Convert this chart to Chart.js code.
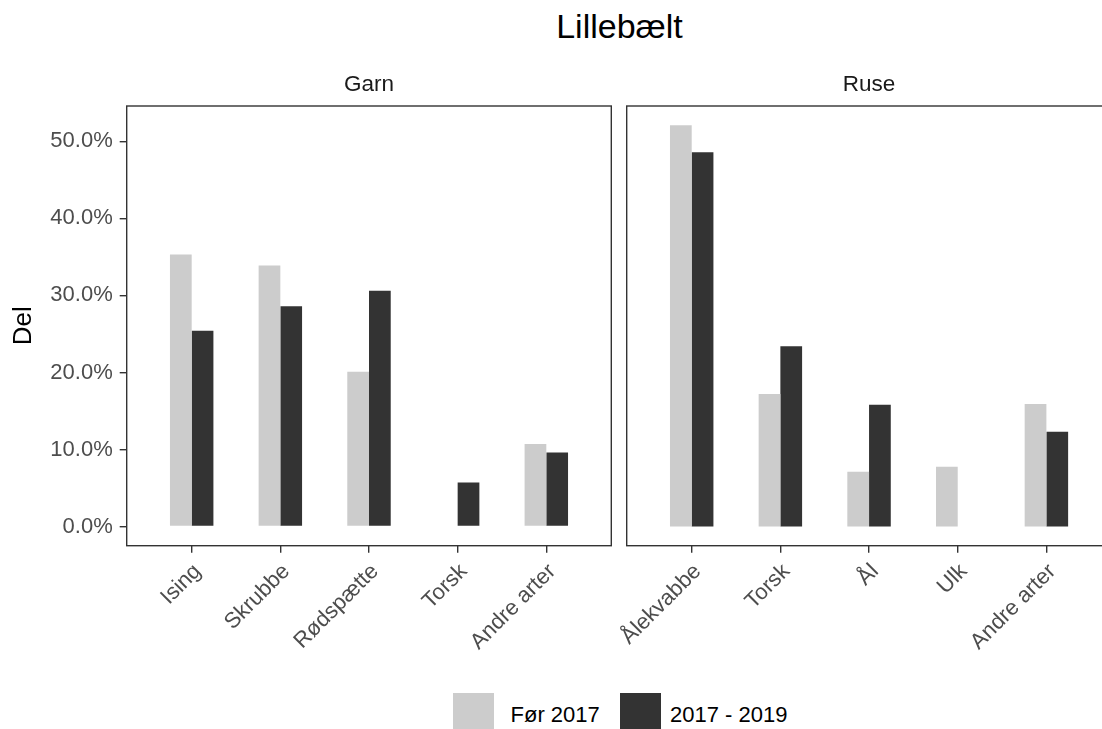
<!DOCTYPE html>
<html>
<head>
<meta charset="utf-8">
<script src="https://cdn.jsdelivr.net/npm/chart.js@4/dist/chart.umd.min.js"></script>
<style>
  body { margin: 0; width: 1102px; height: 729px; overflow: hidden; position: relative; background: #fff;
         font-family: 'Liberation Sans', Arial, sans-serif; }
  canvas { position: absolute; top: 0; }
  #garn { left: 0; }
  #ruse { left: 480px; }
  #title { position: absolute; left: 127px; width: 985px; top: 9px; text-align: center;
           font-size: 34px; line-height: 34px; color: #000; }
  .key { position: absolute; top: 693px; width: 41px; height: 41px; }
  .lab { position: absolute; top: 704px; font-size: 22px; line-height: 22px; color: #000; white-space: nowrap; }
</style>
</head>
<body>
<div id="title"></div>
<canvas id="garn" width="620" height="690"></canvas>
<canvas id="ruse" width="640" height="690"></canvas>
<div id="legend"></div>
<script>
const TITLE = 'Lillebælt';
const Y_TITLE = 'Del';
const SERIES = ['Før 2017', '2017 - 2019'];
const COLORS = ['#cccccc', '#333333'];
const Y_TICKS = [0, 10, 20, 30, 40, 50];

const GARN_ARTER = ['Ising', 'Skrubbe', 'Rødspætte', 'Torsk', 'Andre arter'];
const GARN_FOR = [35.3, 33.9, 20.1, null, 10.7];
const GARN_NY = [25.4, 28.6, 30.6, 5.7, 9.6];

const RUSE_ARTER = ['Ålekvabbe', 'Torsk', 'Ål', 'Ulk', 'Andre arter'];
const RUSE_FOR = [52.1, 17.2, 7.1, 7.75, 15.9];
const RUSE_NY = [48.6, 23.4, 15.8, null, 12.3];

const FONT = "'Liberation Sans', Arial, sans-serif";
const INK = '#333333';

document.getElementById('title').textContent = TITLE;

// ggplot-ish panel border round the plot area
const panelBorder = {
  id: 'panelBorder',
  afterDraw(chart) {
    const { ctx, chartArea: a } = chart;
    ctx.save();
    ctx.strokeStyle = INK;
    ctx.lineWidth = 1.4;
    ctx.strokeRect(a.left, a.top, a.width, a.height);
    ctx.restore();
  },
};

function panelChart(canvasId, strip, arter, forVals, nyVals, showY, padding) {
  const mkData = vals => arter.map((_, i) => ({ x: i, y: vals[i] }));
  const tickGrid = { display: true, drawOnChartArea: false, tickLength: 7, color: INK, lineWidth: 1.4 };
  return new Chart(document.getElementById(canvasId), {
    type: 'bar',
    data: {
      datasets: [forVals, nyVals].map((vals, k) => ({
        label: SERIES[k], data: mkData(vals), backgroundColor: COLORS[k],
        borderWidth: 0, categoryPercentage: 0.49, barPercentage: 1,
      })),
    },
    options: {
      responsive: false, animation: false,
      layout: { padding },
      plugins: {
        legend: { display: false },
        tooltip: { enabled: false },
        title: {
          display: true, text: strip, fullSize: false, color: '#1a1a1a',
          font: { family: FONT, size: 22.5, weight: 'normal', lineHeight: 1.2 },
          padding: { top: 71.5, bottom: 7.5 },
        },
      },
      scales: {
        x: {
          type: 'linear', min: -0.733, max: 4.733, offset: false,
          afterBuildTicks: s => { s.ticks = arter.map((_, i) => ({ value: i })); },
          afterFit: s => { s.height = 690 - 545.7; s.paddingLeft = 0; s.paddingRight = 0; },
          grid: { ...tickGrid, offset: false }, border: { display: false },
          ticks: {
            autoSkip: false, minRotation: 45, maxRotation: 45, padding: 6, labelOffset: 6,
            color: '#4d4d4d', font: { family: FONT, size: 22 },
            callback: v => arter[v],
          },
        },
        y: {
          display: showY, min: -2.5, max: 54.6,
          afterBuildTicks: s => { s.ticks = Y_TICKS.map(v => ({ value: v })); },
          afterFit: s => { s.width = showY ? 126.7 : 0; s.paddingTop = 0; s.paddingBottom = 0; },
          grid: tickGrid, border: { display: false },
          ticks: {
            padding: 7, color: '#4d4d4d', font: { family: FONT, size: 22 },
            callback: v => v.toFixed(1) + '%',
          },
          title: {
            display: true, text: Y_TITLE, color: '#000',
            font: { family: FONT, size: 26, lineHeight: 1.2 }, padding: { top: 8, bottom: 0 },
          },
        },
      },
    },
    plugins: [panelBorder],
  });
}

panelChart('garn', 'Garn', GARN_ARTER, GARN_FOR, GARN_NY, true, { left: 0, right: 8.7, top: 0, bottom: 0 });
panelChart('ruse', 'Ruse', RUSE_ARTER, RUSE_FOR, RUSE_NY, false, { left: 146.7, right: 8.6, top: 0, bottom: 0 });

// legend below the panels
const legend = document.getElementById('legend');
const KEY_X = [453.3, 620];
const LAB_X = [510.5, 670];
SERIES.forEach((name, k) => {
  const key = document.createElement('div');
  key.className = 'key';
  key.style.left = KEY_X[k] + 'px';
  key.style.background = COLORS[k];
  legend.appendChild(key);
  const lab = document.createElement('div');
  lab.className = 'lab';
  lab.style.left = LAB_X[k] + 'px';
  lab.textContent = name;
  legend.appendChild(lab);
});
</script>
</body>
</html>
